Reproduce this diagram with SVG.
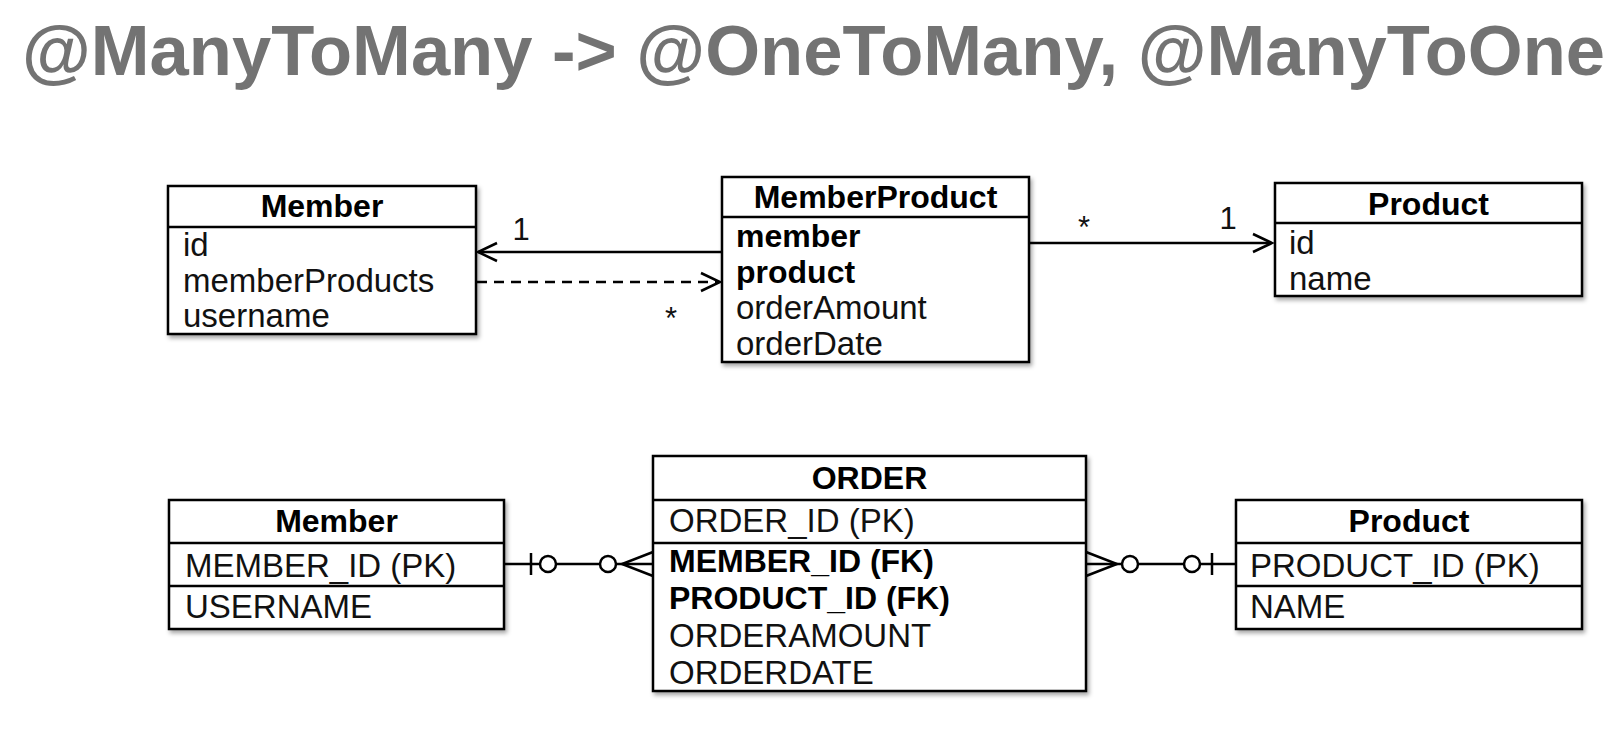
<svg xmlns="http://www.w3.org/2000/svg" width="1614" height="732" viewBox="0 0 1614 732">
<defs>
<filter id="sh" x="-5%" y="-5%" width="112%" height="115%">
<feDropShadow dx="2" dy="3" stdDeviation="2" flood-color="#000" flood-opacity="0.35"/>
</filter>
<style>
.box{fill:#fff;stroke:#000;stroke-width:2.5}
.div{stroke:#000;stroke-width:2.5}
.hd{font-family:"Liberation Sans",Arial,sans-serif;font-weight:bold;font-size:32px;fill:#000;text-anchor:middle}
.row{font-family:"Liberation Sans",Arial,sans-serif;font-size:33px;fill:#111}
.b{font-weight:bold;fill:#000;font-size:32px}
.lbl{font-family:"Liberation Sans",Arial,sans-serif;font-size:31px;fill:#111;text-anchor:middle}
.ln{stroke:#000;stroke-width:2.5;fill:none}
.circ{fill:#fff;stroke:#000;stroke-width:2.5}
.title{font-family:"Liberation Sans",Arial,sans-serif;font-weight:bold;font-size:70px;fill:#737373}
</style>
</defs>
<rect width="1614" height="732" fill="#fff"/>
<text class="title" x="22" y="75" textLength="1583" lengthAdjust="spacingAndGlyphs">@ManyToMany -&gt; @OneToMany, @ManyToOne</text>

<g id="uml-member">
<rect class="box" filter="url(#sh)" x="168" y="186" width="308" height="148"/>
<line class="div" x1="168" y1="227" x2="476" y2="227"/>
<text class="hd" x="322" y="217">Member</text>
<text class="row" x="183" y="256">id</text>
<text class="row" x="183" y="292">memberProducts</text>
<text class="row" x="183" y="327">username</text>
</g>

<g id="uml-memberproduct">
<rect class="box" filter="url(#sh)" x="722" y="177" width="307" height="185"/>
<line class="div" x1="722" y1="217" x2="1029" y2="217"/>
<text class="hd" x="875.5" y="208">MemberProduct</text>
<text class="row b" x="736" y="247">member</text>
<text class="row b" x="736" y="283">product</text>
<text class="row" x="736" y="319">orderAmount</text>
<text class="row" x="736" y="355">orderDate</text>
</g>

<g id="uml-product">
<rect class="box" filter="url(#sh)" x="1275" y="183" width="307" height="113"/>
<line class="div" x1="1275" y1="223" x2="1582" y2="223"/>
<text class="hd" x="1428.5" y="215">Product</text>
<text class="row" x="1289" y="254">id</text>
<text class="row" x="1289" y="290">name</text>
</g>

<g id="er-member">
<rect class="box" filter="url(#sh)" x="169" y="500" width="335" height="129"/>
<line class="div" x1="169" y1="543" x2="504" y2="543"/>
<line class="div" x1="169" y1="586" x2="504" y2="586"/>
<text class="hd" x="336.5" y="532">Member</text>
<text class="row" x="185" y="577">MEMBER_ID (PK)</text>
<text class="row" x="185" y="618">USERNAME</text>
</g>

<g id="er-order">
<rect class="box" filter="url(#sh)" x="653" y="456" width="433" height="235"/>
<line class="div" x1="653" y1="500" x2="1086" y2="500"/>
<line class="div" x1="653" y1="543" x2="1086" y2="543"/>
<text class="hd" x="869.5" y="489">ORDER</text>
<text class="row" x="669" y="532">ORDER_ID (PK)</text>
<text class="row b" x="669" y="572">MEMBER_ID (FK)</text>
<text class="row b" x="669" y="609">PRODUCT_ID (FK)</text>
<text class="row" x="669" y="647">ORDERAMOUNT</text>
<text class="row" x="669" y="684">ORDERDATE</text>
</g>

<g id="er-product">
<rect class="box" filter="url(#sh)" x="1236" y="500" width="346" height="129"/>
<line class="div" x1="1236" y1="543" x2="1582" y2="543"/>
<line class="div" x1="1236" y1="586" x2="1582" y2="586"/>
<text class="hd" x="1409" y="532">Product</text>
<text class="row" x="1250" y="577">PRODUCT_ID (PK)</text>
<text class="row" x="1250" y="618">NAME</text>
</g>

<g id="connectors">
<line class="ln" x1="722" y1="252" x2="478" y2="252"/>
<polyline class="ln" points="497,243 478,252 497,261"/>
<text class="lbl" x="521" y="240">1</text>

<line class="ln" x1="477" y1="282" x2="719" y2="282" stroke-dasharray="10,7"/>
<polyline class="ln" points="701,273 720,282 701,291"/>
<text class="lbl" x="671" y="329">*</text>

<line class="ln" x1="1029" y1="243" x2="1272" y2="243"/>
<polyline class="ln" points="1253,234 1272,243 1253,252"/>
<text class="lbl" x="1084" y="238">*</text>
<text class="lbl" x="1228" y="229">1</text>

<line class="ln" x1="504" y1="564" x2="653" y2="564"/>
<line class="ln" x1="531" y1="553" x2="531" y2="575"/>
<circle class="circ" cx="548" cy="564" r="8"/>
<circle class="circ" cx="608" cy="564" r="8"/>
<polyline class="ln" points="653,552 622,564 653,576"/>

<line class="ln" x1="1086" y1="564" x2="1236" y2="564"/>
<polyline class="ln" points="1086,552 1117,564 1086,576"/>
<circle class="circ" cx="1130" cy="564" r="8"/>
<circle class="circ" cx="1192" cy="564" r="8"/>
<line class="ln" x1="1212" y1="553" x2="1212" y2="575"/>
</g>
</svg>
